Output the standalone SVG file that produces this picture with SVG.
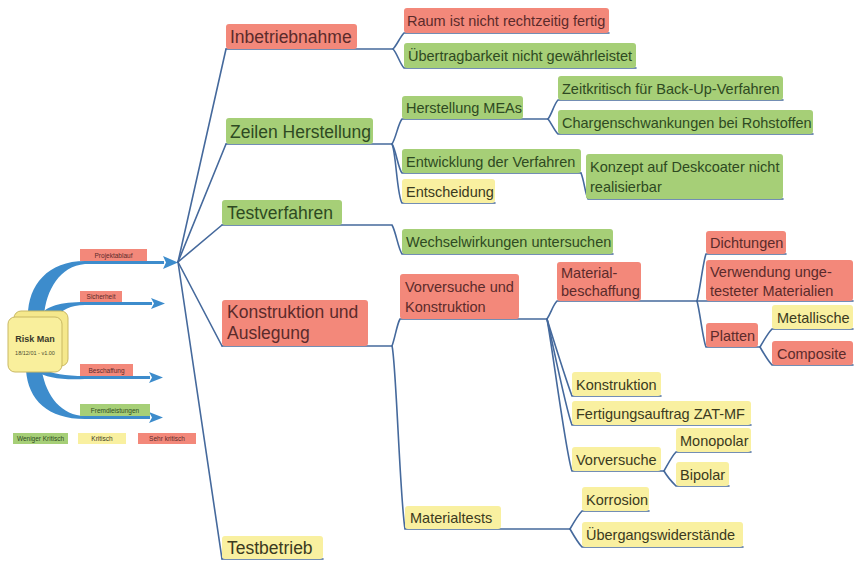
<svg xmlns="http://www.w3.org/2000/svg" width="855" height="561" viewBox="0 0 855 561">
<style>
text{font-family:"Liberation Sans",Arial,sans-serif}
.r{fill:#f3887a}
.g{fill:#a6cf77}
.y{fill:#f9f0a0}
.tr{fill:#5b2b2b}
.tg{fill:#2e4a22}
.ty{fill:#3b3a20}
.m{font-size:17.5px}
.s{font-size:14.5px}
.xs{font-size:6.5px;text-anchor:middle}
.c path,.c line{fill:none;stroke:#45699c;stroke-width:1.6;stroke-linecap:round}
.band{fill:#3d8ccc}
</style>
<rect width="855" height="561" fill="#ffffff"/>

<g id="arrows">
<path class="band" d="M28,316 C28,285 48,261 85,261 L164,261 L164,264 L85,264 C60,266 46,290 44,316 Z"/>
<path class="band" d="M163,256 L178,262.5 L163,269 L166,262.5 Z"/>
<path class="band" d="M40,316 C46,306 60,302 85,302 L152,302 L152,305 L85,305 C70,305 62,310 56,317 Z"/>
<path class="band" d="M151,298 L165,303.5 L151,309 L154,303.5 Z"/>
<path class="band" d="M42,368 C52,374 65,376 85,376 L150,376 L150,379 L85,379 C62,380 46,378 36,371 Z"/>
<path class="band" d="M149,372 L163,377.5 L149,383 L152,377.5 Z"/>
<path class="band" d="M26,370 C28,400 48,419 85,419 L150,419 L150,416 L85,416 C62,416 46,396 42,371 Z"/>
<path class="band" d="M149,412 L163,417.5 L149,423 L152,417.5 Z"/>
</g>

<g id="risk-man">
<rect x="14" y="311" width="54" height="55" rx="7" fill="#f5e88c" stroke="#c9b863" stroke-width="1"/>
<rect x="8" y="317" width="54" height="55" rx="7" fill="#f9ef9c" stroke="#c9b863" stroke-width="1"/>
<text x="35" y="342" font-size="9" font-weight="bold" text-anchor="middle" fill="#3a3a2a">Risk Man</text>
<text x="35" y="355" font-size="5.5" text-anchor="middle" fill="#4a4a30">18/12/01 - v1.00</text>
</g>

<g id="projektablauf"><rect class="r" x="80" y="249" width="67" height="12"/><text class="xs tr" x="113.5" y="258">Projektablauf</text></g>
<g id="sicherheit"><rect class="r" x="80" y="291" width="42" height="11"/><text class="xs tr" x="101" y="299">Sicherheit</text></g>
<g id="beschaffung"><rect class="r" x="80" y="364" width="53" height="12"/><text class="xs tr" x="106.5" y="372.5">Beschaffung</text></g>
<g id="fremdleistungen"><rect class="g" x="80" y="404" width="70" height="12"/><text class="xs tg" x="115" y="412.5">Fremdleistungen</text></g>

<g id="legend">
<rect class="g" x="13" y="433" width="55" height="11"/><text class="xs tg" x="40.5" y="441">Weniger Kritisch</text>
<rect class="y" x="78" y="433" width="48" height="11"/><text class="xs ty" x="102" y="441">Kritisch</text>
<rect class="r" x="138" y="433" width="58" height="11"/><text class="xs tr" x="167" y="441">Sehr kritisch</text>
</g>

<g id="connectors" class="c">
<line x1="178" y1="262" x2="226" y2="49"/>
<line x1="178" y1="262" x2="226" y2="144"/>
<line x1="178" y1="262" x2="222" y2="225"/>
<line x1="178" y1="262" x2="222" y2="346"/>
<line x1="178" y1="262" x2="222" y2="559"/>
<path d="M226,49 H393 C397,45 400,37 404,33 H609"/>
<path d="M393,49 C397,53 400,64 404,68 H636"/>
<path d="M226,144 H392 C396,138 398,124 402,119 H548"/>
<path d="M392,144 C396,150 398,168 402,173 H581"/>
<path d="M392,144 C396,152 397,196 402,203 H495"/>
<path d="M548,119 C552,114 554,104 558,100 H783"/>
<path d="M548,119 C552,124 554,130 558,134 H813"/>
<path d="M581,173 C584,180 585,193 588,199 H783"/>
<path d="M222,225 H392 C396,232 398,248 402,254 H613"/>
<path d="M222,346 H392 C395,338 397,324 400,319 H547"/>
<path d="M392,346 C396,360 400,500 405,529 H570"/>
<path d="M547,319 C551,313 553,305 557,301 H697"/>
<path d="M547,319 C552,335 566,380 572,396 H661"/>
<path d="M547,319 C552,340 566,410 572,425 H751"/>
<path d="M547,319 C552,345 566,455 572,471 H664"/>
<path d="M697,301 C700,290 703,262 706,254 H786"/>
<path d="M697,301 H853"/>
<path d="M697,301 C700,312 703,340 706,347 H760"/>
<path d="M760,347 C764,340 768,333 772,329 H853"/>
<path d="M760,347 C764,354 768,361 772,365 H853"/>
<path d="M664,471 C668,464 672,456 676,452 H751"/>
<path d="M664,471 C668,478 672,482 676,486 H729"/>
<path d="M570,529 C574,522 578,515 582,511 H649"/>
<path d="M570,529 C574,536 578,543 582,547 H743"/>
<path d="M222,559 H323"/>
</g>

<g id="inbetriebnahme"><rect class="r" x="226" y="24" width="131" height="25" rx="3"/><text class="m tr" x="230" y="43">Inbetriebnahme</text></g>
<g id="raum"><rect class="r" x="404" y="8" width="205" height="25" rx="3"/><text class="s tr" x="407" y="26">Raum ist nicht rechtzeitig fertig</text></g>
<g id="uebertragbarkeit"><rect class="g" x="404" y="43" width="232" height="25" rx="3"/><text class="s tg" x="408" y="61">Übertragbarkeit nicht gewährleistet</text></g>

<g id="zeilen-herstellung"><rect class="g" x="226" y="118" width="147" height="26" rx="3"/><text class="m tg" x="230" y="138">Zeilen Herstellung</text></g>
<g id="herstellung-meas"><rect class="g" x="402" y="96" width="121" height="23" rx="3"/><text class="s tg" x="406" y="113">Herstellung MEAs</text></g>
<g id="zeitkritisch"><rect class="g" x="558" y="76" width="225" height="24" rx="3"/><text class="s tg" x="562" y="94">Zeitkritisch für Back-Up-Verfahren</text></g>
<g id="chargenschwankungen"><rect class="g" x="558" y="110" width="255" height="24" rx="3"/><text class="s tg" x="562" y="128">Chargenschwankungen bei Rohstoffen</text></g>
<g id="entwicklung"><rect class="g" x="402" y="149" width="179" height="24" rx="3"/><text class="s tg" x="406" y="167">Entwicklung der Verfahren</text></g>
<g id="entscheidung"><rect class="y" x="402" y="179" width="93" height="24" rx="3"/><text class="s ty" x="406" y="197">Entscheidung</text></g>
<g id="konzept"><rect class="g" x="586" y="154" width="197" height="45" rx="3"/><text class="s tg" x="590" y="172">Konzept auf Deskcoater nicht</text><text class="s tg" x="590" y="192">realisierbar</text></g>

<g id="testverfahren"><rect class="g" x="222" y="200" width="120" height="25" rx="3"/><text class="m tg" x="227" y="219">Testverfahren</text></g>
<g id="wechselwirkungen"><rect class="g" x="402" y="229" width="211" height="25" rx="3"/><text class="s tg" x="406" y="247">Wechselwirkungen untersuchen</text></g>

<g id="konstruktion-auslegung"><rect class="r" x="222" y="300" width="146" height="46" rx="3"/><text class="m tr" x="227" y="318">Konstruktion und</text><text class="m tr" x="227" y="339">Auslegung</text></g>
<g id="vorversuche-konstruktion"><rect class="r" x="400" y="274" width="119" height="45" rx="3"/><text class="s tr" x="405" y="292">Vorversuche und</text><text class="s tr" x="405" y="312">Konstruktion</text></g>
<g id="materialbeschaffung"><rect class="r" x="557" y="262" width="84" height="39" rx="3"/><text class="s tr" x="561" y="278">Material-</text><text class="s tr" x="561" y="296">beschaffung</text></g>
<g id="dichtungen"><rect class="r" x="706" y="231" width="80" height="23" rx="3"/><text class="s tr" x="710" y="248">Dichtungen</text></g>
<g id="verwendung"><rect class="r" x="706" y="260" width="147" height="41" rx="3"/><text class="s tr" x="710" y="277">Verwendung unge-</text><text class="s tr" x="710" y="296">testeter Materialien</text></g>
<g id="platten"><rect class="r" x="706" y="323" width="52" height="24" rx="3"/><text class="s tr" x="710" y="341">Platten</text></g>
<g id="metallische"><rect class="y" x="772" y="305" width="81" height="24" rx="3"/><text class="s ty" x="777" y="323">Metallische</text></g>
<g id="composite"><rect class="r" x="772" y="341" width="81" height="24" rx="3"/><text class="s tr" x="777" y="359">Composite</text></g>
<g id="konstruktion"><rect class="y" x="572" y="372" width="89" height="24" rx="3"/><text class="s ty" x="576" y="390">Konstruktion</text></g>
<g id="fertigungsauftrag"><rect class="y" x="572" y="401" width="179" height="24" rx="3"/><text class="s ty" x="576" y="419">Fertigungsauftrag ZAT-MF</text></g>
<g id="monopolar"><rect class="y" x="676" y="428" width="75" height="24" rx="3"/><text class="s ty" x="680" y="446">Monopolar</text></g>
<g id="vorversuche"><rect class="y" x="572" y="447" width="89" height="24" rx="3"/><text class="s ty" x="576" y="465">Vorversuche</text></g>
<g id="bipolar"><rect class="y" x="676" y="462" width="53" height="24" rx="3"/><text class="s ty" x="680" y="480">Bipolar</text></g>
<g id="materialtests"><rect class="y" x="405" y="506" width="96" height="23" rx="3"/><text class="s ty" x="410" y="523">Materialtests</text></g>
<g id="korrosion"><rect class="y" x="582" y="487" width="67" height="24" rx="3"/><text class="s ty" x="586" y="505">Korrosion</text></g>
<g id="uebergangswiderstaende"><rect class="y" x="582" y="522" width="161" height="25" rx="3"/><text class="s ty" x="586" y="540">Übergangswiderstände</text></g>

<g id="testbetrieb"><rect class="y" x="222" y="536" width="101" height="23" rx="3"/><text class="m ty" x="227" y="554">Testbetrieb</text></g>
</svg>
